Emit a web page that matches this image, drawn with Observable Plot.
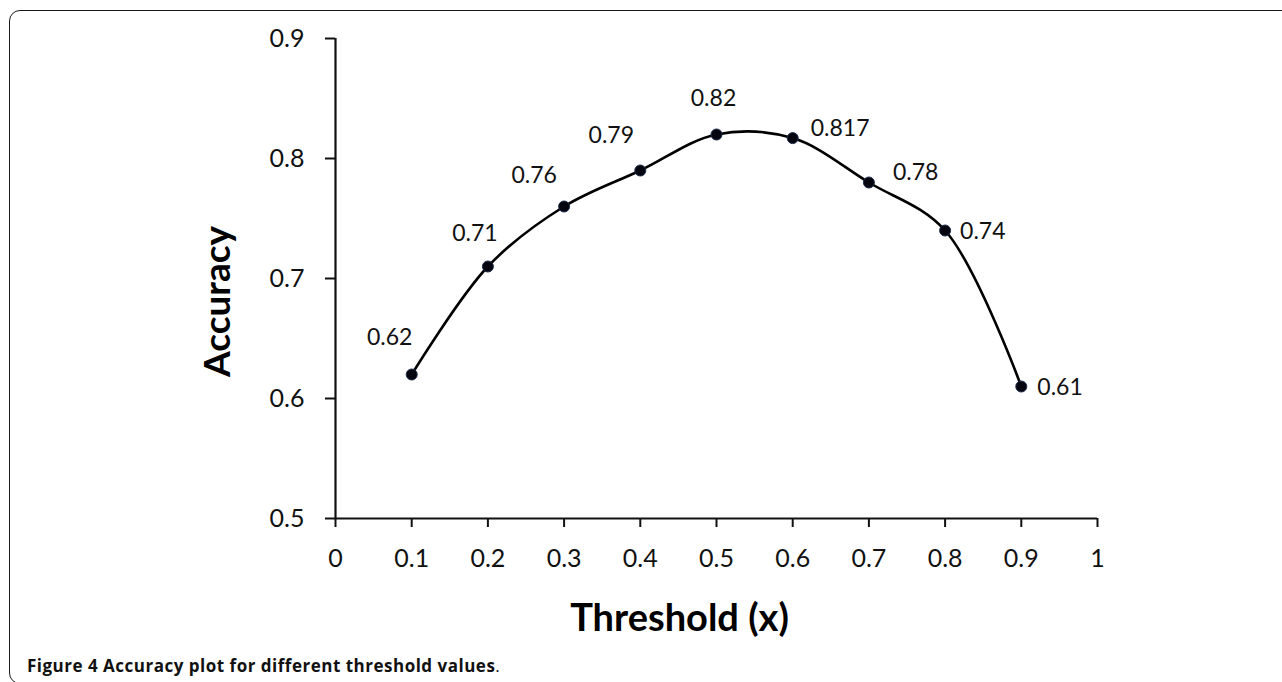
<!DOCTYPE html>
<html><head><meta charset="utf-8">
<script src="https://cdn.jsdelivr.net/npm/d3@7"></script>
<script src="https://cdn.jsdelivr.net/npm/@observablehq/plot@0.6"></script>
<style>
html,body{margin:0;padding:0;background:#fff;width:1282px;height:682px;overflow:hidden}
#frame{position:absolute;left:9px;top:10px;width:1320px;height:674px;border:1.8px solid #1a1a1a;border-radius:11px;box-sizing:border-box}
#chart{position:absolute;left:0;top:0}
#caption{position:absolute;left:27px;top:657px;font-family:"Open Sans";font-size:17px;line-height:17px;letter-spacing:0.5px;font-weight:700;color:#111;white-space:nowrap}
#caption .p{font-weight:400}
</style></head><body>
<div id="frame"></div>
<div id="chart"></div>
<div id="caption">Figure 4 Accuracy plot for different threshold values<span class="p">.</span></div>
<script>
const thresholds = [0.1, 0.2, 0.3, 0.4, 0.5, 0.6, 0.7, 0.8, 0.9];
const accuracy = [0.62, 0.71, 0.76, 0.79, 0.82, 0.817, 0.78, 0.74, 0.61];
const pointLabels = ["0.62", "0.71", "0.76", "0.79", "0.82", "0.817", "0.78", "0.74", "0.61"];
const xTicks = [0, 0.1, 0.2, 0.3, 0.4, 0.5, 0.6, 0.7, 0.8, 0.9, 1];
const yTicks = [0.5, 0.6, 0.7, 0.8, 0.9];
const xTitle = "Threshold (x)";
const yTitle = "Accuracy";

const data = thresholds.map((x, i) => ({x, y: accuracy[i], label: pointLabels[i]}));

// label placement (layout only)
const placement = [
  {dx: -22, dy: -37, textAnchor: "middle"},
  {dx: -13, dy: -33, textAnchor: "middle"},
  {dx: -30, dy: -31, textAnchor: "middle"},
  {dx: -29, dy: -35, textAnchor: "middle"},
  {dx: -3, dy: -36, textAnchor: "middle"},
  {dx: 18, dy: -9, textAnchor: "start"},
  {dx: 24, dy: -10, textAnchor: "start"},
  {dx: 15, dy: 1, textAnchor: "start"},
  {dx: 16, dy: 1, textAnchor: "start"}
];

const chart = Plot.plot({
  width: 1282,
  height: 650,
  marginLeft: 335,
  marginRight: 185,
  marginTop: 38,
  marginBottom: 132,
  style: {fontFamily: "Lato", background: "transparent", color: "#111"},
  x: {domain: [0, 1]},
  y: {domain: [0.5, 0.9]},
  marks: [
    Plot.axisX({ticks: xTicks, tickSize: 9, tickPadding: 22, fontSize: 25, label: null, strokeWidth: 2, tickFormat: d => String(d)}),
    Plot.axisY({ticks: yTicks, tickSize: 10, tickPadding: 21, fontSize: 25, label: null, strokeWidth: 2, tickFormat: d => String(d)}),
    Plot.ruleY([0.5], {stroke: "#111", strokeWidth: 2.2}),
    Plot.ruleX([0], {stroke: "#111", strokeWidth: 2.2}),
    Plot.line(data, {x: "x", y: "y", curve: "catmull-rom", stroke: "#000", strokeWidth: 2.6}),
    Plot.dot(data, {x: "x", y: "y", r: 5.5, fill: "#05050f", stroke: "#1c2c4c", strokeWidth: 1}),
    ...data.map((d, i) => Plot.text([d], {x: "x", y: "y", text: "label", fontSize: 23, fill: "#111", ...placement[i]})),
    Plot.text([yTitle], {text: d => d, frameAnchor: "left", textAnchor: "middle", lineAnchor: "middle", rotate: -90, dx: -117, dy: 23, fontSize: 37, fontWeight: "bold", fill: "#000"}),
    Plot.text([xTitle], {text: d => d, frameAnchor: "bottom", textAnchor: "middle", lineAnchor: "middle", dx: -37, dy: 100, fontSize: 38, fontWeight: "bold", fill: "#000"})
  ]
});
document.getElementById("chart").append(chart);
</script>
</body></html>
